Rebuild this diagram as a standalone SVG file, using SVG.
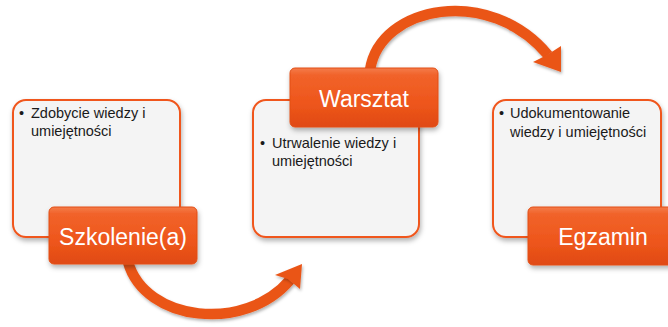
<svg xmlns="http://www.w3.org/2000/svg" width="668" height="327" viewBox="0 0 668 327">
<defs>
<linearGradient id="lab" x1="0" y1="0" x2="0" y2="1">
<stop offset="0" stop-color="#F47C4A"/>
<stop offset="0.12" stop-color="#F1632A"/>
<stop offset="0.6" stop-color="#EE561C"/>
<stop offset="1" stop-color="#E04A12"/>
</linearGradient>
<filter id="sh" x="-20%" y="-20%" width="140%" height="150%">
<feDropShadow dx="1" dy="3" stdDeviation="2.5" flood-color="#000" flood-opacity="0.3"/>
</filter>
<filter id="sh2" x="-20%" y="-20%" width="140%" height="150%">
<feDropShadow dx="1" dy="2" stdDeviation="1.5" flood-color="#000" flood-opacity="0.3"/>
</filter>
</defs>
<style>
.box{fill:#F4F4F4;stroke:#F0561C;stroke-width:2;filter:url(#sh)}
.lab{fill:url(#lab);stroke:#E24E14;stroke-width:1;filter:url(#sh)}
.lt{font-family:"Liberation Sans",Arial,sans-serif;font-size:23px;fill:#fff;text-anchor:middle}
.bt{font-family:"Liberation Sans",Arial,sans-serif;font-size:14.5px;fill:#1a1a1a}
.shaft{fill:none;stroke:#EA5519;stroke-width:10.5;filter:url(#sh2)}
.head{fill:#EA5519;filter:url(#sh2)}
</style>
<rect width="668" height="327" fill="#fff"/>
<g id="box-szkolenie">
<rect class="box" x="13" y="100" width="167" height="137" rx="13"/>
<text class="bt" x="19" y="118">•</text>
<text class="bt" x="31" y="118">Zdobycie wiedzy i</text>
<text class="bt" x="31" y="136">umiejętności</text>
</g>
<g id="box-warsztat">
<rect class="box" x="253" y="100" width="166" height="137" rx="13"/>
<text class="bt" x="260" y="148">•</text>
<text class="bt" x="272" y="148">Utrwalenie wiedzy i</text>
<text class="bt" x="272" y="166">umiejętności</text>
</g>
<g id="box-egzamin">
<rect class="box" x="493" y="100" width="168" height="137" rx="13"/>
<text class="bt" x="499" y="118">•</text>
<text class="bt" x="510" y="118">Udokumentowanie</text>
<text class="bt" x="510" y="137">wiedzy i umiejętności</text>
</g>
<g id="connectors">
<path class="shaft" d="M128,262 C145,322 245,333 290,280"/>
<polygon class="head" points="302,264 275,275 288,279 300,289"/>
<path class="shaft" d="M370,70 C380,5 490,-15 548,55"/>
<polygon class="head" points="561,72 533,62 547,55 561,46"/>
</g>
<g id="label-szkolenie">
<rect class="lab" x="49" y="207" width="148" height="57" rx="5"/>
<text class="lt" x="123" y="245">Szkolenie(a)</text>
</g>
<g id="label-warsztat">
<rect class="lab" x="290" y="68" width="148" height="59" rx="5"/>
<text class="lt" x="364" y="107">Warsztat</text>
</g>
<g id="label-egzamin">
<rect class="lab" x="528" y="207" width="148" height="58" rx="5"/>
<text class="lt" x="603" y="245">Egzamin</text>
</g>
</svg>
